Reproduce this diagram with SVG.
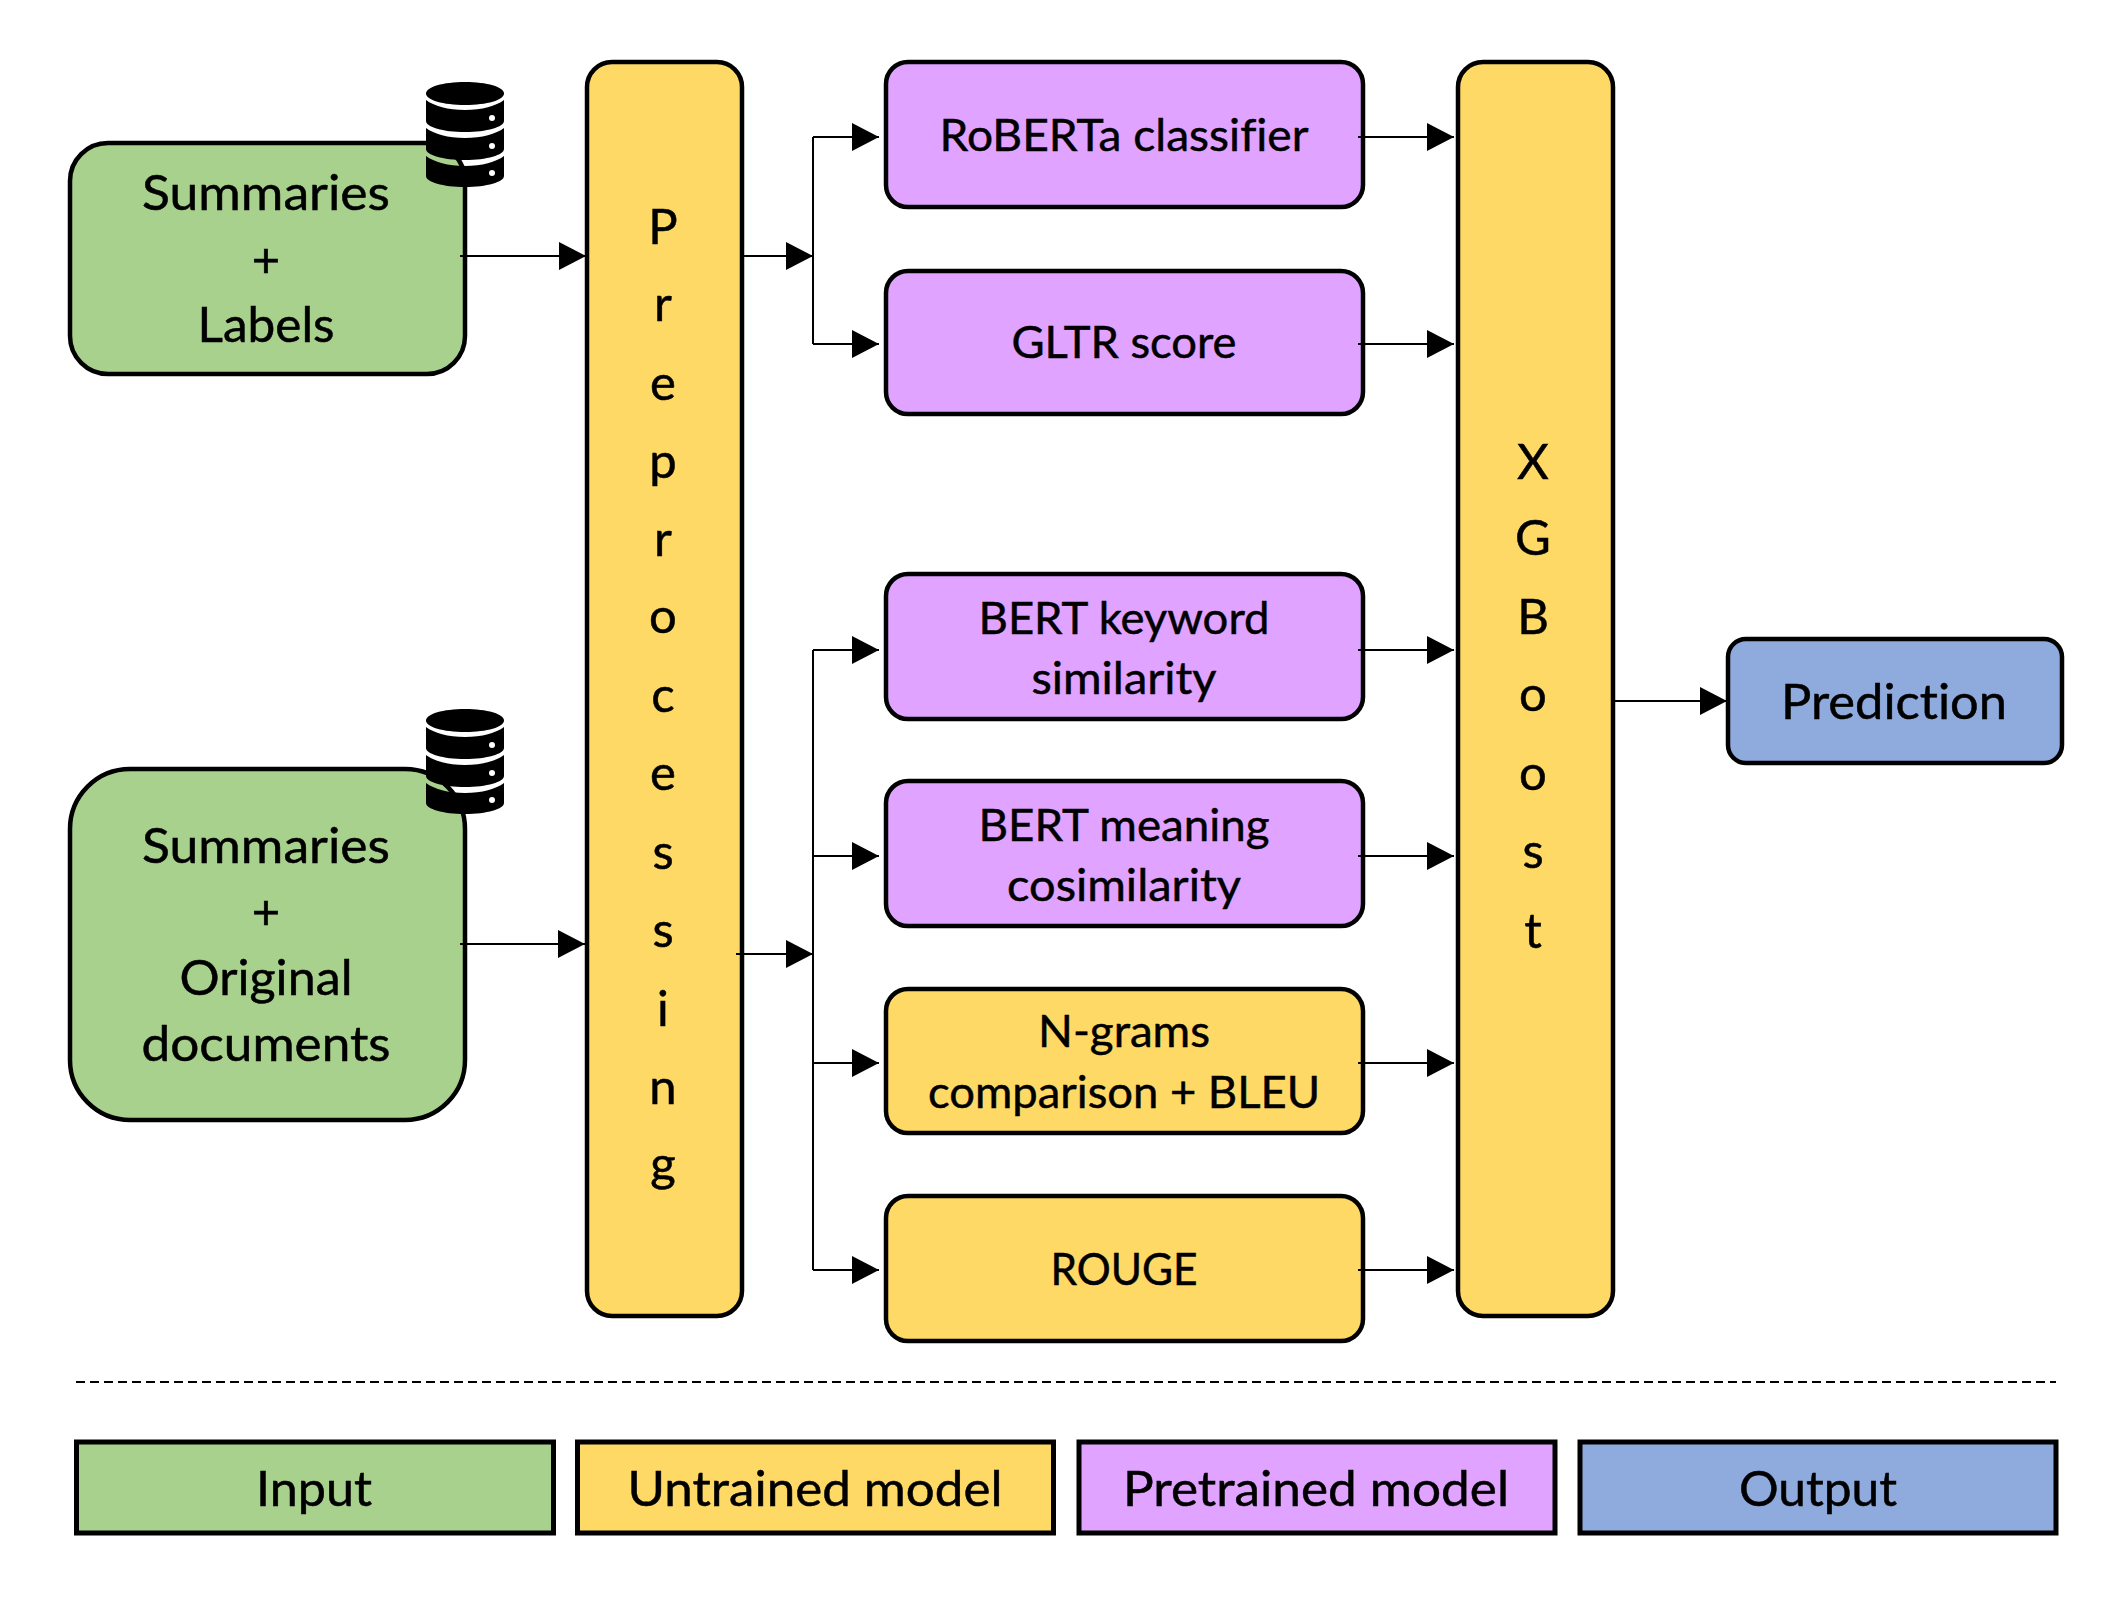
<svg xmlns="http://www.w3.org/2000/svg" xmlns:xlink="http://www.w3.org/1999/xlink" width="2122" height="1604" viewBox="0 0 2122 1604">
<defs>
<style>
text{font-family:Lato,"Open Sans",sans-serif;font-variant-ligatures:none;fill:#000;stroke:#000;stroke-width:.5;text-anchor:middle}
.b{stroke:#000;stroke-width:4.500}
.g{fill:#a9d18e}.y{fill:#ffd966}.p{fill:#e0a3ff}.u{fill:#8faadc}
.l{font-size:49px}.m{font-size:45px}.v{font-size:49px}.n{font-size:48px}
.c{fill:none;stroke:#000;stroke-width:2}
.k{stroke-width:5}
</style>
<marker id="a" markerUnits="userSpaceOnUse" markerWidth="27" markerHeight="28" refX="27" refY="14" orient="auto"><path d="M0 0L27 14L0 28Z"/></marker>
<g id="db">
<path d="M0 11.500C0 5 17 0 39 0S78 5 78 11.500S61 23 39 23S0 18 0 11.500Z"/>
<path d="M0 18C8 24 22 28 39 28S70 24 78 18V39C78 45 61 50 39 50S0 45 0 39Z"/>
<path d="M0 46C8 52 22 56 39 56S70 52 78 46V67C78 73 61 78 39 78S0 73 0 67Z"/>
<path d="M0 74C8 80 22 84 39 84S70 80 78 74V94C78 100 61 105 39 105S0 100 0 94Z"/>
<g fill="#fff"><circle cx="66" cy="36" r="3"/><circle cx="66" cy="64" r="3"/><circle cx="66" cy="91" r="3"/></g>
</g>
</defs>
<rect width="2122" height="1604" fill="#fff"/>
<g id="input-labels"><rect class="b g" x="70" y="143" width="395" height="231" rx="38"/>
<text class="l" x="266" y="210" textLength="248" lengthAdjust="spacingAndGlyphs">Summaries</text><text class="l" x="266" y="277">+</text><text class="l" x="266" y="342" textLength="137" lengthAdjust="spacingAndGlyphs">Labels</text></g>
<g id="input-docs"><rect class="b g" x="70" y="769" width="395" height="351" rx="60"/>
<text class="l" x="266" y="863" textLength="248" lengthAdjust="spacingAndGlyphs">Summaries</text><text class="l" x="266" y="929">+</text><text class="l" x="266" y="995" textLength="173" lengthAdjust="spacingAndGlyphs">Original</text><text class="l" x="266" y="1061" textLength="249" lengthAdjust="spacingAndGlyphs">documents</text></g>
<g id="preprocessing"><rect class="b y" x="587" y="62" width="155" height="1254" rx="25"/>
<text class="v" x="663" y="244">P</text><text class="v" x="663" y="321">r</text><text class="v" x="663" y="400">e</text><text class="v" x="663" y="478">p</text><text class="v" x="663" y="556">r</text><text class="v" x="663" y="633">o</text><text class="v" x="663" y="712">c</text><text class="v" x="663" y="790">e</text><text class="v" x="663" y="869">s</text><text class="v" x="663" y="947">s</text><text class="v" x="663" y="1026">i</text><text class="v" x="663" y="1104">n</text><text class="v" x="663" y="1181">g</text></g>
<g id="roberta"><rect class="b p" x="886" y="62" width="477" height="145" rx="22"/><text class="m" x="1124" y="151" textLength="369" lengthAdjust="spacingAndGlyphs">RoBERTa classifier</text></g>
<g id="gltr"><rect class="b p" x="886" y="271" width="477" height="143" rx="22"/><text class="m" x="1124" y="358" textLength="225" lengthAdjust="spacingAndGlyphs">GLTR score</text></g>
<g id="bert-keyword"><rect class="b p" x="886" y="574" width="477" height="145" rx="22"/><text class="m" x="1124" y="634" textLength="291" lengthAdjust="spacingAndGlyphs">BERT keyword</text><text class="m" x="1124" y="694" textLength="185" lengthAdjust="spacingAndGlyphs">similarity</text></g>
<g id="bert-meaning"><rect class="b p" x="886" y="781" width="477" height="145" rx="22"/><text class="m" x="1124" y="841" textLength="291" lengthAdjust="spacingAndGlyphs">BERT meaning</text><text class="m" x="1124" y="901" textLength="234" lengthAdjust="spacingAndGlyphs">cosimilarity</text></g>
<g id="ngrams"><rect class="b y" x="886" y="989" width="477" height="144" rx="22"/><text class="m" x="1124" y="1047" textLength="172" lengthAdjust="spacingAndGlyphs">N-grams</text><text class="m" x="1124" y="1108" textLength="392" lengthAdjust="spacingAndGlyphs">comparison + BLEU</text></g>
<g id="rouge"><rect class="b y" x="886" y="1196" width="477" height="145" rx="22"/><text class="m" x="1124" y="1285" textLength="147" lengthAdjust="spacingAndGlyphs">ROUGE</text></g>
<g id="xgboost"><rect class="b y" x="1458" y="62" width="155" height="1254" rx="25"/>
<text class="v" x="1533" y="479">X</text><text class="v" x="1533" y="555">G</text><text class="v" x="1533" y="634">B</text><text class="v" x="1533" y="711">o</text><text class="v" x="1533" y="790">o</text><text class="v" x="1533" y="868">s</text><text class="v" x="1533" y="948">t</text></g>
<g id="prediction"><rect class="b u" x="1728" y="639" width="334" height="124" rx="18"/><text class="l" x="1894" y="719" textLength="226" lengthAdjust="spacingAndGlyphs">Prediction</text></g>
<g id="connectors">
<path class="c" d="M460 256H586" marker-end="url(#a)"/>
<path class="c" d="M460 944H585" marker-end="url(#a)"/>
<path class="c" d="M741 256H813" marker-end="url(#a)"/>
<path class="c" d="M736 954H813" marker-end="url(#a)"/>
<path class="c" d="M813 137V344M813 650V1270"/>
<path class="c" d="M813 137H879" marker-end="url(#a)"/>
<path class="c" d="M813 344H879" marker-end="url(#a)"/>
<path class="c" d="M813 650H879" marker-end="url(#a)"/>
<path class="c" d="M813 856H879" marker-end="url(#a)"/>
<path class="c" d="M813 1063H879" marker-end="url(#a)"/>
<path class="c" d="M813 1270H879" marker-end="url(#a)"/>
<path class="c" d="M1358 137H1454" marker-end="url(#a)"/>
<path class="c" d="M1358 344H1454" marker-end="url(#a)"/>
<path class="c" d="M1358 650H1454" marker-end="url(#a)"/>
<path class="c" d="M1358 856H1454" marker-end="url(#a)"/>
<path class="c" d="M1358 1063H1454" marker-end="url(#a)"/>
<path class="c" d="M1358 1270H1454" marker-end="url(#a)"/>
<path class="c" d="M1613 701H1727" marker-end="url(#a)"/>
</g>
<g id="db-1"><use xlink:href="#db" href="#db" x="426" y="82"/></g>
<g id="db-2"><use xlink:href="#db" href="#db" x="426" y="709"/></g>
<path id="divider" d="M76 1382H2056" fill="none" stroke="#000" stroke-width="2" stroke-dasharray="9 5"/>
<g id="legend-input"><rect class="b k g" x="76.500" y="1442" width="477" height="91"/><text class="n" x="314" y="1506" textLength="116" lengthAdjust="spacingAndGlyphs">Input</text></g>
<g id="legend-untrained"><rect class="b k y" x="577.500" y="1442" width="476" height="91"/><text class="n" x="815" y="1506" textLength="375" lengthAdjust="spacingAndGlyphs">Untrained model</text></g>
<g id="legend-pretrained"><rect class="b k p" x="1079" y="1442" width="476" height="91"/><text class="n" x="1316" y="1506" textLength="386" lengthAdjust="spacingAndGlyphs">Pretrained model</text></g>
<g id="legend-output"><rect class="b k u" x="1580" y="1442" width="476" height="91"/><text class="n" x="1818" y="1506" textLength="158" lengthAdjust="spacingAndGlyphs">Output</text></g>
</svg>
